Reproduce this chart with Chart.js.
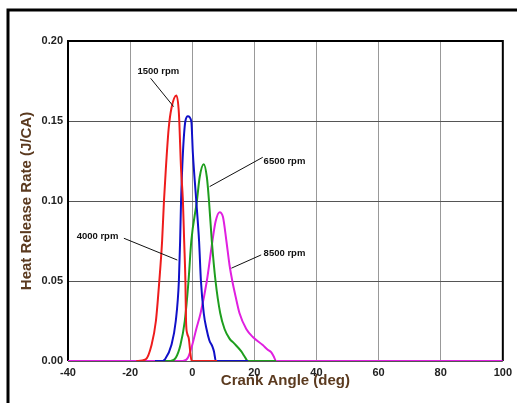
<!DOCTYPE html>
<html>
<head>
<meta charset="utf-8">
<script src="https://cdn.jsdelivr.net/npm/chart.js@4.4.0/dist/chart.umd.min.js"></script>
<style>
  html, body { margin: 0; padding: 0; background: #fff; }
  #wrap { width: 517px; height: 403px; }
</style>
</head>
<body>
<div id="wrap"><canvas id="chart1" width="517" height="403"></canvas></div>
<script>
// crank angle (deg) / heat release rate (J/CA)
const red1500X = [-18, -15, -13.1, -11.7, -10.6, -9.7, -9.1, -8.5, -7.6, -6.7, -5.1, -4.3, -3.6, -3.0, -2.6, -2.2, -2.0, -1.6, -1.1, -0.6, -0.2, 8];
const red1500Y = [0, 0.001, 0.01, 0.025, 0.05, 0.075, 0.10, 0.12, 0.145, 0.158, 0.166, 0.155, 0.12, 0.10, 0.075, 0.05, 0.025, 0.017, 0.014, 0.005, 0, 0];

const blue4000X = [-12, -9.5, -8.8, -6.7, -5.3, -4.3, -3.9, -3.6, -3.0, -2.2, -1.4, -0.3, 0.2, 1.3, 2.2, 2.8, 3.7, 4.6, 5.5, 6.5, 7.0, 7.6, 18];
const blue4000Y = [0, 0, 0.001, 0.01, 0.025, 0.05, 0.075, 0.10, 0.13, 0.15, 0.153, 0.15, 0.13, 0.10, 0.075, 0.05, 0.03, 0.02, 0.013, 0.009, 0.006, 0, 0];

const green6500X = [-9, -7, -5.3, -3.8, -2.4, -1.2, -0.3, 1.5, 2.4, 3.7, 4.7, 5.4, 6.3, 7.5, 9.0, 10.4, 12, 13.5, 15.8, 16.8, 17.9, 27];
const green6500Y = [0, 0, 0.002, 0.01, 0.025, 0.05, 0.075, 0.10, 0.115, 0.123, 0.115, 0.10, 0.075, 0.05, 0.03, 0.02, 0.014, 0.011, 0.006, 0.003, 0, 0];

const mag8500X = [-40, -3, -1.4, 0, 1.3, 2.7, 4.7, 6.5, 7.5, 8.8, 9.9, 11, 12, 12.9, 14, 15.2, 17.4, 19.5, 22.7, 24.3, 25.4, 26.2, 27, 100];
const mag8500Y = [0, 0, 0.002, 0.01, 0.02, 0.03, 0.05, 0.075, 0.087, 0.093, 0.09, 0.075, 0.06, 0.05, 0.04, 0.03, 0.02, 0.015, 0.01, 0.007, 0.0055, 0.003, 0, 0];

const xTicks = [-40, -20, 0, 20, 40, 60, 80, 100];
const yTickLabels = ['0.00', '0.05', '0.10', '0.15', '0.20'];

// callout labels: text position and leader line, in data units
const labelText = ['1500 rpm', '4000 rpm', '6500 rpm', '8500 rpm'];
const labelAt = [[-10.9, 0.181], [-30.5, 0.0777], [29.7, 0.125], [29.7, 0.0675]];
const leaderFrom = [[-13.4, 0.1767], [-22.0, 0.0767], [22.7, 0.1273], [22.2, 0.0663]];
const leaderTo = [[-6.0, 0.159], [-4.8, 0.0631], [5.6, 0.109], [12.6, 0.058]];

const toPts = (xs, ys) => xs.map((x, i) => ({ x: x, y: ys[i] }));

const frame = {
  id: 'frame',
  beforeDraw(chart) {
    const c = chart.ctx;
    c.save();
    c.fillStyle = '#fff';
    c.fillRect(0, 0, chart.width, chart.height);
    c.strokeStyle = '#000';
    c.lineWidth = 3;
    c.beginPath();
    c.moveTo(chart.width, 10);
    c.lineTo(8, 10);
    c.lineTo(8, chart.height);
    c.stroke();
    c.restore();
  },
  beforeDatasetsDraw(chart) {
    const a = chart.chartArea, c = chart.ctx;
    c.save();
    c.strokeStyle = '#000';
    c.lineWidth = 2;
    c.beginPath();
    c.moveTo(a.left, a.bottom);
    c.lineTo(a.left, a.top);
    c.lineTo(a.right, a.top);
    c.lineTo(a.right, a.bottom);
    c.stroke();
    c.restore();
  },
  afterDatasetsDraw(chart) {
    const xs = chart.scales.x, ys = chart.scales.y, c = chart.ctx;
    c.save();
    c.strokeStyle = '#111';
    c.lineWidth = 1;
    c.fillStyle = '#111';
    c.font = 'bold 9.5px Arial, "Liberation Sans", sans-serif';
    c.textAlign = 'center';
    c.textBaseline = 'middle';
    labelText.forEach((t, i) => {
      c.beginPath();
      c.moveTo(xs.getPixelForValue(leaderFrom[i][0]), ys.getPixelForValue(leaderFrom[i][1]));
      c.lineTo(xs.getPixelForValue(leaderTo[i][0]), ys.getPixelForValue(leaderTo[i][1]));
      c.stroke();
      c.fillText(t, xs.getPixelForValue(labelAt[i][0]), ys.getPixelForValue(labelAt[i][1]));
    });
    c.restore();
  }
};

const ds = (label, xs, ys, color) => ({
  label: label,
  data: toPts(xs, ys),
  borderColor: color,
  borderWidth: 2,
  pointRadius: 0,
  fill: false,
  cubicInterpolationMode: 'monotone'
});

new Chart(document.getElementById('chart1'), {
  type: 'line',
  data: {
    datasets: [
      ds('1500 rpm', red1500X, red1500Y, '#ee1c1c'),
      ds('4000 rpm', blue4000X, blue4000Y, '#1010c8'),
      ds('6500 rpm', green6500X, green6500Y, '#1e9e1e'),
      ds('8500 rpm', mag8500X, mag8500Y, '#e020e0')
    ]
  },
  options: {
    responsive: false,
    animation: false,
    layout: { padding: { left: 18, right: 13, top: 41, bottom: 13 } },
    plugins: { legend: { display: false }, tooltip: { enabled: false } },
    scales: {
      x: {
        type: 'linear',
        min: -40, max: 100,
        afterFit: s => { s.height = 29; },
        afterBuildTicks: s => { s.ticks = xTicks.map(v => ({ value: v })); },
        grid: { color: '#999', drawTicks: false },
        border: { display: false },
        ticks: {
          padding: 5,
          color: '#222',
          font: { family: 'Arial', size: 11, weight: 'bold' },
          maxRotation: 0
        },
        title: {
          display: true,
          text: 'Crank Angle (deg)',
          color: '#5b3a1f',
          font: { family: 'Arial', size: 15, weight: 'bold' },
          padding: 0
        }
      },
      y: {
        min: 0, max: 0.2,
        afterFit: s => { s.width = 50; },
        grid: { color: '#555', drawTicks: false },
        border: { display: false },
        ticks: {
          stepSize: 0.05,
          padding: 5,
          color: '#222',
          font: { family: 'Arial', size: 11, weight: 'bold' },
          callback: (v, i) => yTickLabels[i]
        },
        title: {
          display: true,
          text: 'Heat Release Rate (J/CA)',
          color: '#5b3a1f',
          font: { family: 'Arial', size: 15, weight: 'bold' },
          padding: 0
        }
      }
    }
  },
  plugins: [frame]
});
</script>
</body>
</html>
